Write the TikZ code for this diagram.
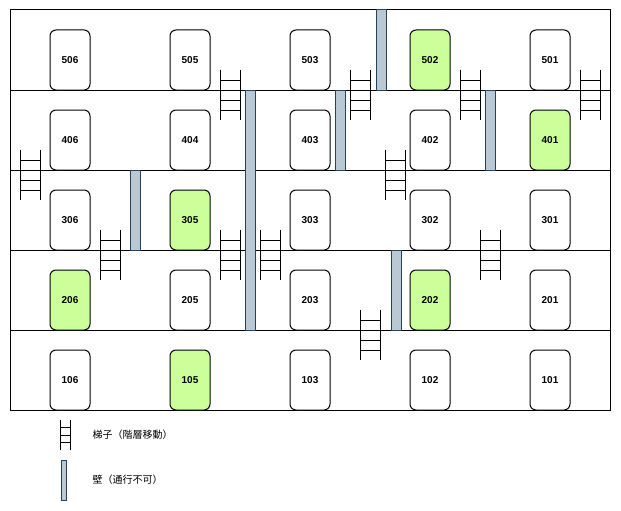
\documentclass[tikz,border=0pt]{standalone}
\usepackage{fontspec}
\setmainfont{Liberation Sans}
\newfontfamily\cjk{Noto Sans CJK JP}
\begin{document}
\begin{tikzpicture}[x=1pt,y=-1pt,line width=1pt,
  room/.style={draw,rounded corners=6pt,minimum width=40pt,minimum height=60pt,font=\bfseries\fontsize{10}{11}\selectfont,inner sep=0pt}]
\definecolor{lgreen}{HTML}{CCFF99}
\definecolor{wallc}{HTML}{BAC8D3}
\definecolor{wallb}{HTML}{23445D}
\tikzset{wall/.style={draw=wallb,fill=wallc}}
\useasboundingbox (0,0) rectangle (621,511);
\draw (10,10) rectangle (610,410);
\foreach \y in {90,170,250,330} \draw (10,\y) -- (610,\y);
\def\ladder(#1,#2){\draw (#1-10,#2-25) -- (#1-10,#2+25) (#1+10,#2-25) -- (#1+10,#2+25);
  \foreach \k in {-15,-5,5,15} \draw (#1-10,#2+\k) -- (#1+10,#2+\k);}
\foreach \n/\x/\y/\g in {506/70/60/0,505/190/60/0,503/310/60/0,502/430/60/1,501/550/60/0,
 406/70/140/0,404/190/140/0,403/310/140/0,402/430/140/0,401/550/140/1,
 306/70/220/0,305/190/220/1,303/310/220/0,302/430/220/0,301/550/220/0,
 206/70/300/1,205/190/300/0,203/310/300/0,202/430/300/1,201/550/300/0,
 106/70/380/0,105/190/380/1,103/310/380/0,102/430/380/0,101/550/380/0}{
 \ifnum\g=1 \node[room,fill=lgreen] (r\n) at (\x,\y) {\n};
 \else \node[room,fill=white] (r\n) at (\x,\y) {\n};\fi}
\foreach \a/\b/\c/\d in {376/10/386/90,245/90/255/330,335/90/345/170,485/90/495/170,130/170/140/250,391/250/401/330}
 \draw[wall] (\a,\b) rectangle (\c,\d);
\ladder(230,95) \ladder(360,95) \ladder(470,95) \ladder(590,95)
\ladder(30,175) \ladder(395,175)
\ladder(110,255) \ladder(230,255) \ladder(270,255) \ladder(490,255)
\ladder(370,335)
\draw (60,420) -- (60,450) (70,420) -- (70,450);
\foreach \k in {427.5,435,442.5} \draw (60,\k) -- (70,\k);
\draw[wall] (61,460) rectangle (66,500);
\node[anchor=west,font=\cjk\fontsize{10}{12}\selectfont,inner sep=0pt] (l1) at (92,435) {梯子（階層移動）};
\node[anchor=west,font=\cjk\fontsize{10}{12}\selectfont,inner sep=0pt] (l2) at (92,480) {壁（通行不可）};
\end{tikzpicture}
\end{document}
